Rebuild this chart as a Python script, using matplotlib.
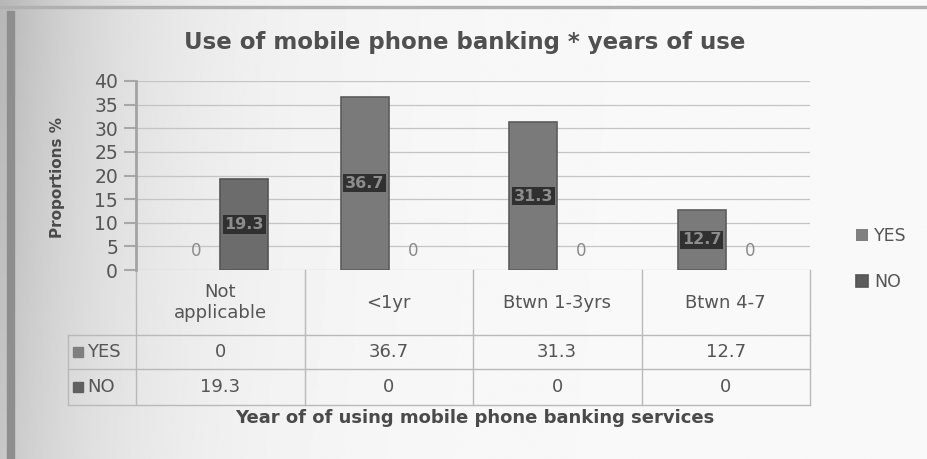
import matplotlib.pyplot as plt
import numpy as np
from matplotlib.lines import Line2D

# data
CATEGORIES = ["Not\napplicable", "<1yr", "Btwn 1-3yrs", "Btwn 4-7"]
YES = [0, 36.7, 31.3, 12.7]
NO = [19.3, 0, 0, 0]
SERIES = ["YES", "NO"]

TITLE = "Use of mobile phone banking * years of use"
XLABEL = "Year of of using mobile phone banking services"
YLABEL = "Proportions %"


def fmt(v):
    return "0" if v == 0 else f"{v:g}"


def main():
    plt.rcParams["font.family"] = ["DejaVu Sans"]
    fig = plt.figure(figsize=(9.28, 4.59), dpi=100)

    # scanned-page look: grey on the left fading to near white
    bg = fig.add_axes([0, 0, 1, 1], zorder=-10)
    gx = np.linspace(0, 1, 400)
    gy = np.linspace(0, 1, 200)[:, None]
    shade = 0.975 - 0.26 * np.exp(-gx[None, :] / 0.14) * (0.75 + 0.25 * (1 - gy))
    bg.imshow(shade, aspect="auto", cmap="gray", vmin=0, vmax=1,
              extent=[0, 1, 0, 1], origin="upper")
    bg.axvspan(0.008, 0.015, ymax=0.975, color="#8e8e8e")
    bg.axhspan(0.982, 0.988, color="#b0b0b0")
    bg.set_xlim(0, 1)
    bg.set_ylim(0, 1)
    bg.axis("off")

    ax = fig.add_axes([136 / 928, 1 - 270 / 459, 674 / 928, 189 / 459])
    ax.patch.set_alpha(0)

    x = np.arange(len(CATEGORIES))
    w = 0.285
    b_yes = ax.bar(x - w / 2, YES, w, color="#7a7a7a", edgecolor="#5c5c5c",
                   linewidth=1.2, label=SERIES[0], zorder=3)
    b_no = ax.bar(x + w / 2, NO, w, color="#6c6c6c", edgecolor="#555555",
                  linewidth=1.2, label=SERIES[1], zorder=3)

    for bars, vals in ((b_yes, YES), (b_no, NO)):
        for rect, v in zip(bars, vals):
            cx = rect.get_x() + rect.get_width() / 2
            if v == 0:
                rect.set_linewidth(0)
                ax.text(cx, 4.0, "0", ha="center", va="center", fontsize=12,
                        color="#8a8a8a", zorder=5)
            else:
                ax.text(cx, v / 2, fmt(v), ha="center", va="center",
                        fontsize=11.5, fontweight="bold", color="#8c8c8c",
                        zorder=5,
                        bbox=dict(boxstyle="square,pad=0.1",
                                  facecolor="#303030", edgecolor="none"))

    ax.set_xlim(-0.5, len(CATEGORIES) - 0.5)
    ax.set_ylim(0, 40)
    ax.set_yticks(np.arange(0, 41, 5))
    ax.set_xticks([])
    ax.yaxis.grid(True, color="#c4c4c4", linewidth=0.9, zorder=0)
    ax.set_axisbelow(True)
    for s in ("top", "right", "bottom"):
        ax.spines[s].set_visible(False)
    ax.spines["left"].set_color("#a3a3a3")
    ax.spines["left"].set_linewidth(2)
    ax.tick_params(axis="y", length=9, width=1.5, color="#a8a8a8",
                   labelsize=13.5, labelcolor="#555555", pad=4)

    fig.text(465 / 928, 1 - 43 / 459, TITLE, ha="center", va="center",
             fontsize=16.5, fontweight="bold", color="#505050")
    fig.text(58 / 928, 1 - 178 / 459, YLABEL, ha="center", va="center",
             rotation=90, fontsize=11, fontweight="bold", color="#4a4a4a")
    fig.text(475 / 928, 1 - 418 / 459, XLABEL, ha="center", va="center",
             fontsize=13, fontweight="bold", color="#4a4a4a")

    # data table under the plot (axes-fraction y, data x)
    tr = ax.get_xaxis_transform()
    ph = 189.0
    y_head = -(335 - 270) / ph
    y_yes = -(369 - 270) / ph
    y_no = -(405 - 270) / ph
    x_lab = -0.5 - (136 - 68) / 168.5
    line_kw = dict(color="#b9b9b9", linewidth=1.0, transform=tr, clip_on=False)

    xs = np.arange(len(CATEGORIES) + 1) - 0.5
    for xv in xs:
        ax.add_line(Line2D([xv, xv], [0, y_no], **line_kw))
    for yv in (y_head, y_yes, y_no):
        ax.add_line(Line2D([x_lab, xs[-1]], [yv, yv], **line_kw))
    ax.add_line(Line2D([x_lab, x_lab], [y_head, y_no], **line_kw))

    for i, cat in enumerate(CATEGORIES):
        ax.text(i, y_head / 2, cat, transform=tr, ha="center", va="center",
                fontsize=13, color="#555555", linespacing=1.25)
        ax.text(i, (y_head + y_yes) / 2, fmt(YES[i]), transform=tr,
                ha="center", va="center", fontsize=13, color="#555555")
        ax.text(i, (y_yes + y_no) / 2, fmt(NO[i]), transform=tr,
                ha="center", va="center", fontsize=13, color="#555555")

    for name, col, (y0, y1) in ((SERIES[0], "#7f7f7f", (y_head, y_yes)),
                                (SERIES[1], "#606060", (y_yes, y_no))):
        ym = (y0 + y1) / 2
        ax.plot([x_lab + 0.06], [ym], marker="s", markersize=7, color=col,
                transform=tr, clip_on=False)
        ax.text(x_lab + 0.115, ym, name, transform=tr, ha="left", va="center",
                fontsize=13, color="#555555")

    leg = ax.legend(handles=[b_yes, b_no], loc="center left",
                    bbox_to_anchor=(840 / 928, 1 - 259 / 459),
                    bbox_transform=fig.transFigure, frameon=False,
                    fontsize=12.5, handlelength=0.7, handleheight=0.7,
                    handletextpad=0.35, labelspacing=1.6)
    for t in leg.get_texts():
        t.set_color("#555555")
    leg.legend_handles[0].set_facecolor("#808080")
    leg.legend_handles[1].set_facecolor("#5c5c5c")

    fig.savefig("out.png", dpi=100)


if __name__ == "__main__":
    main()
